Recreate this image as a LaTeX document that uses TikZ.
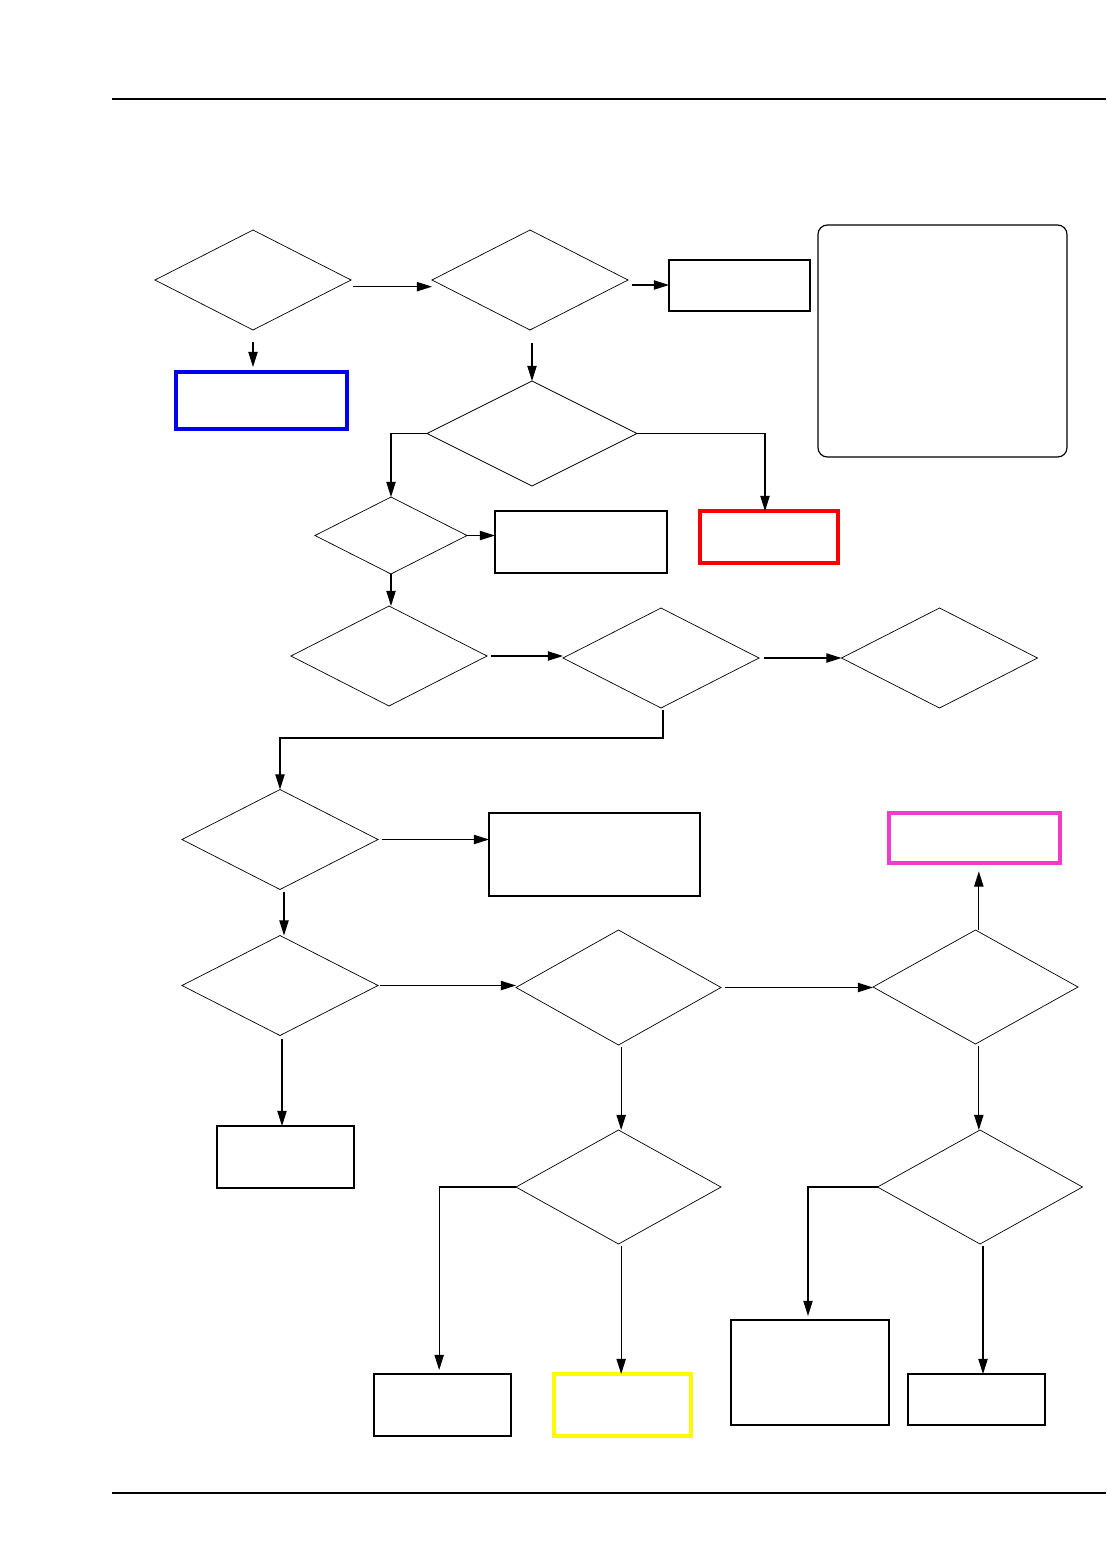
\documentclass[tikz,border=0pt]{standalone}
\usepackage{tikz}
\usetikzlibrary{arrows.meta, shapes.geometric}

\definecolor{tagblue}{RGB}{0,0,240}
\definecolor{tagred}{RGB}{250,0,0}
\definecolor{tagpink}{RGB}{240,60,200}
\definecolor{tagyellow}{RGB}{255,250,0}

\begin{document}
\begin{tikzpicture}[x=0.03cm, y=-0.03cm, >={Triangle[length=13pt, width=8pt]},
      dia/.style={diamond, draw, line width=0.6pt, inner sep=0pt, outer sep=0pt},
      box/.style={rectangle, draw, line width=1pt, inner sep=0pt, outer sep=0pt},
      tag/.style={box, line width=3pt},
      note/.style={box, rounded corners=8pt},
      flow/.style={draw, ->, line width=0.9pt, shorten <=2pt}]

    % page frame: header and footer rules
    \useasboundingbox (0,0) rectangle (1107,1554);
    \coordinate (hdrL) at (112,99);   \coordinate (hdrR) at (1106,99);
    \coordinate (ftrL) at (112,1493); \coordinate (ftrR) at (1106,1493);
    \draw[line width=1.1pt] (hdrL) -- (hdrR);
    \draw[line width=1.1pt] (ftrL) -- (ftrR);

    % --- Row 0 ---
    \node[dia, minimum width=5.88cm, minimum height=3cm] (chkA) at (253,280) {};
    \node[dia, minimum width=5.88cm, minimum height=3cm] (chkB) at (530,280) {};
    \node[box, minimum width=4.23cm, minimum height=1.53cm] (outA) at (739.5,285.5) {};
    \node[note, minimum width=7.47cm, minimum height=6.96cm] (memo) at (942.5,341) {};
    \node[tag, draw=tagblue, minimum width=5.13cm, minimum height=1.71cm] (okA) at (261.5,400.5) {};

    % --- Row 1 ---
    \node[dia, minimum width=6.3cm, minimum height=3.15cm] (chkC) at (532,433.5) {};
    \node[dia, minimum width=4.56cm, minimum height=2.31cm] (chkD) at (391,535.5) {};
    \node[box, minimum width=5.16cm, minimum height=1.86cm] (outB) at (581,542) {};
    \node[tag, draw=tagred, minimum width=4.14cm, minimum height=1.56cm] (badA) at (769,537) {};

    % --- Row 2 ---
    \node[dia, minimum width=5.88cm, minimum height=3cm] (chkE) at (389,656) {};
    \node[dia, minimum width=5.88cm, minimum height=3cm] (chkF) at (661,658) {};
    \node[dia, minimum width=5.88cm, minimum height=3cm] (chkG) at (939.5,658) {};

    % --- Row 3 ---
    \node[dia, minimum width=5.88cm, minimum height=3cm] (chkH) at (280,839.5) {};
    \node[box, minimum width=6.33cm, minimum height=2.49cm] (outC) at (594.5,854.5) {};
    \node[tag, draw=tagpink, minimum width=5.13cm, minimum height=1.5cm] (endP) at (974.5,838) {};

    % --- Row 4 ---
    \node[dia, minimum width=5.88cm, minimum height=3cm] (chkI) at (280,985.5) {};
    \node[dia, minimum width=6.15cm, minimum height=3.45cm] (chkJ) at (618.5,987.5) {};
    \node[dia, minimum width=6.15cm, minimum height=3.42cm] (chkK) at (975.5,987) {};
    \node[box, minimum width=4.11cm, minimum height=1.86cm] (outD) at (285.5,1157) {};

    % --- Row 5 ---
    \node[dia, minimum width=6.15cm, minimum height=3.42cm] (chkL) at (618.5,1187) {};
    \node[dia, minimum width=6.15cm, minimum height=3.42cm] (chkM) at (980,1187) {};

    % --- Row 6: leaves ---
    \node[box, minimum width=4.11cm, minimum height=1.86cm] (outE) at (442.5,1405) {};
    \node[tag, draw=tagyellow, minimum width=4.11cm, minimum height=1.86cm] (endY) at (622.5,1405) {};
    \node[box, minimum width=4.74cm, minimum height=3.15cm] (outF) at (810,1372.5) {};
    \node[box, minimum width=4.11cm, minimum height=1.53cm] (outG) at (976.5,1399.5) {};

    % ======= CONNECTORS =======
    \draw[flow] ([yshift=-0.2cm]chkA.east) -- ([yshift=-0.2cm]chkB.west);
    \draw[flow, shorten <=0.35cm, shorten >=0.15cm] (chkA.south) -- (chkA.south |- okA.north);
    \draw[flow, shorten <=3pt] ([yshift=-0.15cm]chkB.east) -- ([yshift=-0.15cm]outA.west |- chkB.east);
    \draw[flow, shorten <=0.4cm] ([xshift=0.06cm]chkB.south) -- ([xshift=0.06cm]chkB.south |- chkC.north);

    \draw[flow, shorten <=0pt] (chkC.west) -| (chkD.north);
    \draw[flow, shorten <=0pt] (chkC.east) -| ([xshift=-0.12cm]badA.north);

    \draw[flow, shorten <=0pt] (chkD.east) -- (outB.west |- chkD.east);
    \draw[flow, shorten <=0pt] (chkD.south) -- (chkD.south |- chkE.north);

    \draw[flow, shorten <=3pt] (chkE.east) -- (chkF.west |- chkE.east);
    \draw[flow, shorten <=4pt] (chkF.east) -- (chkG.west |- chkF.east);

    % long return to the left column
    \draw[flow] ([xshift=0.06cm]chkF.south) -- ++(0,30) -| (chkH.north);

    \draw[flow, shorten <=3pt] (chkH.east) -- (outC.west |- chkH.east);
    \draw[flow] ([xshift=0.12cm]chkH.south) -- ([xshift=0.12cm]chkI.north);

    \draw[flow] (chkI.east) -- (chkJ.west |- chkI.east);
    \draw[flow, shorten <=3pt] (chkJ.east) -- (chkK.west |- chkJ.east);
    \draw[flow, shorten <=0pt, shorten >=0.25cm] ([xshift=0.1cm]chkK.north) -- ([xshift=0.1cm]chkK.north |- endP.south);
    \draw[flow, shorten <=0.1cm] ([xshift=0.06cm]chkI.south) -- ([xshift=0.06cm]chkI.south |- outD.north);

    \draw[flow] ([xshift=0.08cm]chkJ.south) -- ([xshift=0.08cm]chkJ.south |- chkL.north);
    \draw[flow] ([xshift=0.1cm]chkK.south) -- ([xshift=0.1cm]chkK.south |- chkM.north);

    \draw[flow, shorten <=0pt, shorten >=0.12cm] (chkL.west) -| ([xshift=-0.1cm]outE.north);
    \draw[flow] ([xshift=0.08cm]chkL.south) -- ([xshift=0.08cm]chkL.south |- endY.north);
    \draw[flow, shorten <=0pt, shorten >=0.12cm] (chkM.west) -| ([xshift=-0.06cm]outF.north);
    \draw[flow] ([xshift=0.09cm]chkM.south) -- ([xshift=0.09cm]chkM.south |- outG.north);

\end{tikzpicture}
\end{document}
